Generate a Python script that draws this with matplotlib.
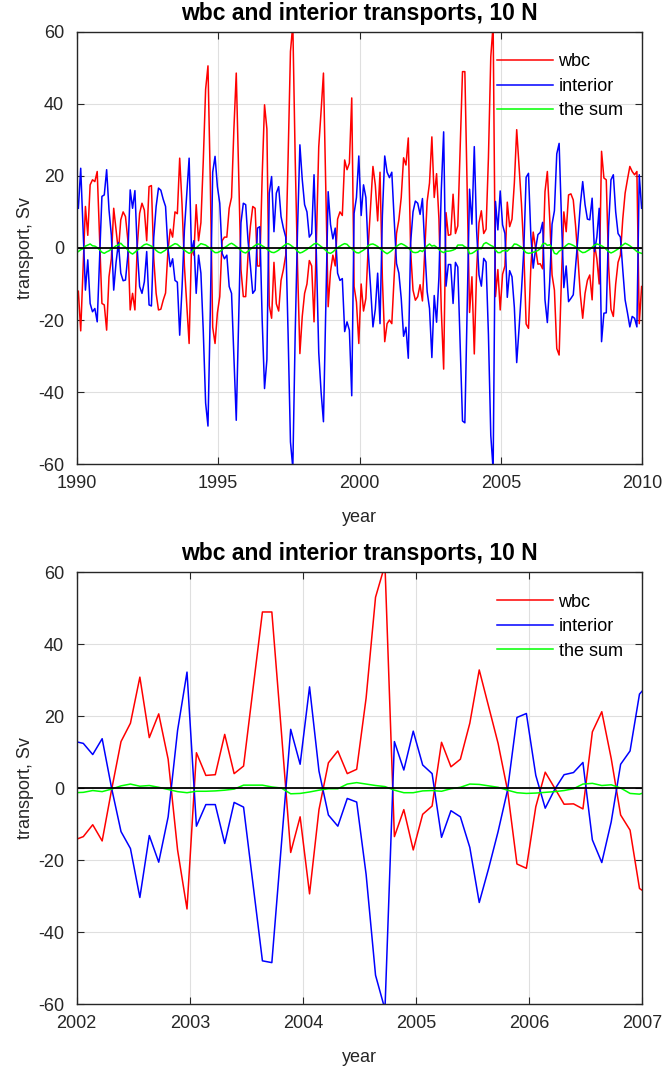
import matplotlib.pyplot as plt
import numpy as np

plt.rcParams['font.family'] = ['Liberation Sans', 'DejaVu Sans']
plt.rcParams['axes.unicode_minus'] = False

# Monthly transports (Sv), Jan 1990 - Dec 2009, one row per year
wbc = [
    -12.0, -23.0, -6.0, 11.5, 3.5, 17.5, 18.9, 18.4, 21.2, 3.0, -15.4, -15.8,     # 1990
    -22.8, -8.0, -3.0, 11.0, 5.0, -1.0, 7.8, 10.0, 8.7, 2.2, -17.2, -12.6,        # 1991
    -17.2, 0.5, 9.6, 12.4, 10.5, 2.0, 17.0, 17.3, -3.0, -12.6, -17.2, -17.0,      # 1992
    -14.5, -12.5, -1.0, 5.2, 3.0, 10.0, 9.5, 24.9, 12.0, -5.0, -16.0, -26.5,      # 1993
    0.0, -2.0, 12.0, 2.0, 7.0, 24.0, 44.0, 50.5, 18.0, -22.0, -26.5, -18.0,       # 1994
    -13.5, 2.0, 3.0, 3.0, 11.0, 14.0, 33.0, 48.5, 21.0, -6.0, -13.5, -13.5,       # 1995
    -2.0, 6.0, 11.5, 11.0, -5.0, -5.0, 20.0, 39.7, 33.0, -16.0, -19.5, -4.0,      # 1996
    -15.5, -17.5, -9.0, -6.0, -2.0, 25.0, 54.5, 62.0, 25.0, -5.0, -29.3, -19.0,   # 1997
    -12.6, -10.0, -3.5, -5.0, -20.5, 2.0, 28.0, 38.0, 48.5, 16.0, -16.3, -6.5,    # 1998
    -2.0, -5.0, 8.0, 10.0, 9.0, 24.4, 21.7, 23.5, 41.6, -10.7, -15.0, -26.5,      # 1999
    -10.0, -17.5, -14.0, 0.5, 11.5, 22.6, 17.5, 7.5, 21.0, -8.5, -26.0, -21.0,    # 2000
    -20.0, -21.0, -8.0, 4.0, 7.8, 14.0, 25.0, 23.0, 30.5, -1.0, -11.7, -14.5,     # 2001
    -13.5, -10.2, -14.7, -0.5, 12.9, 18.0, 30.8, 14.0, 20.6, 8.0, -17.2, -33.6,   # 2002
    9.8, 3.5, 3.7, 14.9, 4.0, 6.1, 27.5, 48.9, 48.9, 16.0, -17.9, -8.0,           # 2003
    -29.4, -6.0, 7.0, 10.3, 4.0, 5.2, 25.0, 53.0, 62.0, -13.5, -6.0, -17.2,       # 2004
    -7.3, -5.0, 12.7, 5.9, 8.0, 18.0, 32.8, 22.6, 12.4, -0.6, -21.1, -22.3,       # 2005
    -5.2, 4.4, 0.0, -4.5, -4.4, -5.8, 15.6, 21.2, 8.2, -7.5, -11.7, -27.9,        # 2006
    -29.7, -8.0, 10.0, 4.5, 14.7, 15.0, 13.3, 6.0, -3.0, -13.0, -19.5, -12.6,     # 2007
    -9.0, -7.5, -14.4, 1.0, -3.0, -10.0, 26.8, 19.4, 18.9, -5.0, -17.0, -19.0,    # 2008
    -10.0, -4.0, -2.0, 8.0, 15.2, 19.0, 22.6, 21.2, 20.3, 21.2, -21.0, -10.7,     # 2009
]

interior = [
    11.0, 22.1, 5.5, -11.7, -3.3, -15.4, -17.7, -16.8, -20.5, -3.0, 14.3, 14.7,   # 1990
    21.7, 10.6, 3.5, -11.7, -4.0, 1.5, -7.0, -9.1, -8.9, -2.0, 16.1, 11.0,        # 1991
    15.9, -0.5, -10.7, -12.6, -9.4, -1.0, -15.8, -16.1, 3.0, 11.5, 16.6, 16.0,    # 1992
    13.5, 11.5, 0.0, -5.2, -3.0, -9.0, -9.5, -24.2, -11.0, 5.0, 15.0, 24.9,       # 1993
    -1.0, 2.0, -12.6, -2.0, -7.0, -23.0, -43.0, -49.4, -17.0, 21.0, 25.4, 17.0,   # 1994
    12.4, -1.5, -3.0, -2.0, -10.7, -12.6, -30.0, -47.8, -20.0, 7.0, 12.4, 12.0,   # 1995
    2.0, -5.0, -12.6, -11.7, 5.5, 5.9, -20.0, -39.0, -31.0, 15.2, 19.8, 4.5,      # 1996
    15.2, 17.0, 8.7, 5.5, 3.0, -24.0, -53.8, -61.0, -24.0, 5.0, 28.6, 19.0,       # 1997
    12.0, 10.0, 3.0, 4.0, 20.3, -2.0, -29.0, -40.0, -48.2, -16.0, 15.6, 6.5,      # 1998
    2.5, 5.5, -7.0, -9.0, -8.5, -23.2, -20.5, -22.8, -41.0, 9.6, 14.0, 25.5,      # 1999
    9.0, 17.5, 14.0, -1.0, -11.0, -21.9, -17.0, -7.0, -21.0, 9.0, 25.5, 21.0,     # 2000
    19.5, 21.0, 8.0, -4.3, -7.0, -14.0, -24.5, -22.0, -30.6, 1.5, 10.0, 13.0,     # 2001
    12.4, 9.3, 13.7, 0.0, -12.1, -16.8, -30.4, -13.2, -20.6, -8.0, 16.0, 32.2,    # 2002
    -10.6, -4.6, -4.6, -15.4, -4.0, -5.3, -26.7, -48.0, -48.5, -16.0, 16.3, 6.6,  # 2003
    28.1, 4.7, -7.5, -10.6, -2.9, -3.9, -24.0, -52.0, -61.5, 12.9, 5.0, 15.8,     # 2004
    6.4, 4.0, -13.7, -6.3, -8.0, -16.5, -31.8, -22.3, -12.1, -0.6, 19.6, 20.7,    # 2005
    3.5, -5.6, -0.4, 3.7, 4.3, 7.1, -14.4, -20.7, -9.4, 6.6, 10.3, 26.1,          # 2006
    29.0, 8.0, -11.0, -5.0, -14.9, -14.0, -13.0, -5.0, 3.0, 12.0, 18.4, 12.0,     # 2007
    8.0, 7.8, 13.8, -1.0, 3.0, 11.0, -26.0, -18.1, -18.0, 6.0, 18.9, 20.3,        # 2008
    10.0, 4.0, 3.0, -6.0, -14.4, -18.0, -21.9, -19.0, -19.5, -21.9, 20.3, 11.0,   # 2009
]

the_sum = [
    -1.0, -0.5, -0.2, 0.5, 0.8, 1.1, 0.6, 0.5, 0.1, -0.5, -1.2, -1.5,   # 1990
    -1.1, -0.8, -0.3, 0.1, 0.6, 0.8, 1.3, 0.6, 0.2, -0.6, -1.3, -1.7,   # 1991
    -1.2, -0.6, -0.2, 0.4, 0.9, 1.1, 0.8, 0.5, 0.0, -0.7, -1.2, -1.4,   # 1992
    -1.0, -0.6, 0.1, 0.4, 0.8, 1.2, 1.0, 0.4, -0.1, -0.6, -1.1, -1.5,   # 1993
    -1.2, -0.5, 0.0, 0.6, 1.2, 1.0, 0.8, 0.3, -0.2, -0.8, -1.3, -1.3,   # 1994
    -1.0, -0.5, 0.1, 0.5, 1.0, 1.3, 0.9, 0.4, -0.1, -0.7, -1.2, -1.4,   # 1995
    -0.9, -0.4, 0.2, 0.7, 1.1, 1.0, 0.6, 0.2, -0.3, -0.8, -1.2, -1.3,   # 1996
    -1.0, -0.6, 0.0, 0.5, 1.0, 1.2, 0.8, 0.3, -0.2, -0.9, -1.4, -1.2,   # 1997
    -0.8, -0.4, 0.1, 0.6, 1.1, 1.3, 0.9, 0.4, -0.1, -0.7, -1.3, -1.5,   # 1998
    -1.1, -0.5, 0.1, 0.5, 0.9, 1.2, 1.0, 0.3, -0.2, -0.8, -1.3, -1.4,   # 1999
    -1.0, -0.6, -0.1, 0.6, 1.0, 1.1, 0.8, 0.4, -0.2, -0.7, -1.2, -1.6,  # 2000
    -1.2, -0.7, 0.0, 0.4, 0.9, 1.2, 0.9, 0.5, 0.0, -0.6, -1.2, -1.3,    # 2001
    -1.2, -0.7, -1.0, -0.3, 0.6, 1.1, 0.5, 0.7, 0.2, -0.4, -1.0, -1.3,  # 2002
    -0.9, -0.9, -0.8, -0.6, -0.3, 0.8, 0.8, 0.8, 0.3, 0.0, -1.6, -1.5,  # 2003
    -1.1, -0.6, -0.2, -0.2, 1.1, 1.5, 1.1, 0.7, 0.4, -0.6, -1.3, -1.3,  # 2004
    -0.8, -0.7, -0.9, -0.2, 0.2, 1.1, 1.0, 0.6, 0.2, -0.6, -1.3, -1.5,  # 2005
    -1.4, -1.2, -1.0, -0.7, -0.2, 1.1, 1.3, 0.7, 0.9, 0.0, -1.5, -1.7,  # 2006
    -0.9, -0.5, 0.1, 0.7, 1.2, 1.0, 0.7, 0.3, -0.3, -0.9, -1.3, -1.2,   # 2007
    -0.8, -0.4, 0.2, 0.8, 1.1, 0.9, 0.6, 0.2, -0.4, -1.0, -1.4, -1.1,   # 2008
    -0.7, -0.3, 0.3, 0.8, 1.3, 1.0, 0.6, 0.1, -0.4, -1.0, -1.3, -1.5,   # 2009
]

start_year = 1990
# sample times in decimal years
t = start_year + (np.arange(len(wbc)) + 0.7) / 12

title = "wbc and interior transports, 10 N"
dark = "#262626"


def transport_panel(ax, xlim, xticks):
    ax.plot(t, wbc, color="#ff0000", lw=1.1, label="wbc")
    ax.plot(t, interior, color="#0000ff", lw=1.1, label="interior")
    ax.plot(t, the_sum, color="#00ff00", lw=1.1, label="the sum")
    ax.axhline(0, color="k", lw=1.3)

    ax.set_xlim(xlim)
    ax.set_ylim(-60, 60)
    ax.set_xticks(xticks)
    ax.set_yticks(np.arange(-60, 61, 20))
    ax.grid(True, color="#dfdfdf", lw=0.8)
    ax.set_axisbelow(True)
    ax.tick_params(direction="in", length=5, width=0.8, top=True, right=True,
                   colors=dark, labelsize=13)
    ax.tick_params(axis="x", pad=8)
    ax.tick_params(axis="y", pad=9)
    for s in ax.spines.values():
        s.set_color(dark)
        s.set_linewidth(1.0)

    ax.set_title(title, fontsize=16.5, fontweight="bold", pad=8.5)
    ax.set_xlabel("year", fontsize=13, color=dark, labelpad=12)
    ax.set_ylabel("transport, Sv", fontsize=13, color=dark, labelpad=3)
    ax.legend(loc="upper right", bbox_to_anchor=(0.965, 0.95), frameon=False,
              fontsize=13, handlelength=3.1, handletextpad=0.3,
              labelspacing=0.42, borderpad=0, borderaxespad=0)


fig = plt.figure(figsize=(6.67, 10.68), dpi=100)

ax1 = fig.add_axes([0.115, 0.5653, 0.848, 0.4051])
transport_panel(ax1, (1990, 2010), [1990, 1995, 2000, 2005, 2010])

ax2 = fig.add_axes([0.115, 0.0599, 0.848, 0.4045])
transport_panel(ax2, (2002, 2007), [2002, 2003, 2004, 2005, 2006, 2007])

fig.savefig("out.png", dpi=100)
